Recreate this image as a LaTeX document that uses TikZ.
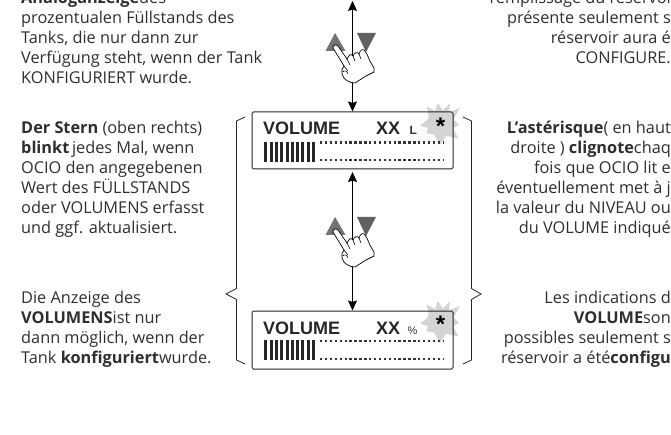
\documentclass[tikz,border=0pt]{standalone}
\usepackage{fontspec}
\setmainfont{Open Sans}
\setsansfont{Liberation Sans}
\usepackage{tikz}
\usetikzlibrary{arrows.meta}

\definecolor{txtgrey}{HTML}{2E2E2E}
\definecolor{stargrey}{HTML}{D4D4D4}
\tikzset{
  blurb/.style={inner sep=0pt,text=txtgrey,font=\fontsize{16.3}{20}\selectfont},
  blurbL/.style={blurb,anchor=north west,align=left},
  blurbR/.style={blurb,anchor=north east,align=right},
  lcdbox/.style={draw=black!85,line width=1pt,rounded corners=1.5pt,minimum width=201pt,inner sep=0pt},
  lcdword/.style={inner sep=0pt,anchor=base west,text=black!85,font=\sffamily\bfseries\fontsize{18}{20}\selectfont},
  lcdunit/.style={inner sep=0pt,anchor=base west,text=black!80,font=\sffamily\bfseries\fontsize{12}{12}\selectfont},
  lcdstar/.style={inner sep=0pt,text=black,font=\sffamily\bfseries\fontsize{24}{24}\selectfont},
  brace/.style={line width=.8pt,draw=black!85,line join=miter},
  wire/.style={line width=.8pt,draw=black,{Stealth[length=10pt,width=9pt,inset=1.5pt]}-{Stealth[length=10pt,width=9pt,inset=1.5pt]}}
}
% one hand with its two triangles, #1 is the shift downwards
\newcommand{\handpair}[1]{
  \begin{scope}[shift={(0,#1)}]
    \fill[black!55] (335,33) -- (345.5,51) -- (325.5,51) -- cycle;
    \fill[black!62] (357,33) -- (376,33) -- (366,52) -- cycle;
    \draw[fill=white,line width=.7pt,line join=round]
      (333,48) .. controls (333,45) and (336,44) .. (338,46)
      -- (347,59) .. controls (349,55) and (351,53) .. (353,56)
      .. controls (354,53) and (357,51) .. (359,54)
      .. controls (360,50) and (363,48) .. (365,51)
      .. controls (368,55) and (369,60) .. (371,63)
      -- (374,68) -- (374,72)
      -- (366,76) -- (355,83)
      .. controls (349,83) and (343,79) .. (342,74)
      .. controls (341,71) and (342,68) .. (344,66)
      -- cycle;
    \draw[line width=.6pt] (347,59) -- (350,65) (353,56) -- (355,61) (359,54) -- (361,59)
      (344,66) -- (348,71) (342,72) .. controls (345,70) and (347,71) .. (348,74);
  \end{scope}
}
% star burst behind a display, #1 is the shift downwards
\newcommand{\lcdburst}[1]{
  \begin{scope}[shift={(440,123+#1)}]
    \fill[stargrey] (-129:21)
      \foreach \ang/\rad in {-112/13,-96/20,-78/13,-63/22,-50/14,-37/25,-15/14,5/19,22/14,40/24,65/14,90/22,118/13,143/17,158/13,172/20,-165/13,-150/13}
        { -- (\ang:\rad) } -- cycle;
  \end{scope}
}
% bars and dots of a display, #1 is the shift downwards
\newcommand{\lcdgauge}[1]{
  \begin{scope}[shift={(0,#1)}]
    \foreach \i in {0,...,9}
      \fill[black!85] ({264.3+5.3*\i},141.7) rectangle ++(3,20);
    \draw[line width=2.2pt,black!80,dash pattern=on 2.4pt off 2.5pt] (320,142.5) -- (444,142.5);
    \draw[line width=2.2pt,black!80,dash pattern=on 2.4pt off 2.5pt] (320,160.2) -- (444,160.2);
  \end{scope}
}
\begin{document}
\begin{tikzpicture}[x=1pt,y=-1pt]
  \useasboundingbox (0,0) rectangle (671,435);

  \node[blurbL] (anaDE) at (21,-9.5) {\textbf{Analoganzeige}des\\prozentualen Füllstands des\\Tanks, die nur dann zur\\Verfügung steht, wenn der Tank\\KONFIGURIERT wurde.};
  \node[blurbL] (sternDE) at (21,120.5) {\textbf{Der Stern} (oben rechts)\\\textbf{blinkt}\,jedes Mal, wenn\\OCIO den angegebenen\\Wert des FÜLLSTANDS\\oder VOLUMENS erfasst\\und ggf. aktualisiert.};
  \node[blurbL] (volDE) at (21,290.5) {Die Anzeige des\\\textbf{VOLUMENS}ist nur\\dann möglich, wenn der\\Tank \textbf{konfiguriert}wurde.};

  \node[blurbR] (anaFR) at (671,-9.5) {remplissage du réservoi\\présente seulement s\\réservoir aura é\\CONFIGURE.};
  \node[blurbR] (sternFR) at (671,120.5) {\textbf{L’astérisque}( en haut\\droite ) \textbf{clignote}chaq\\fois que OCIO lit e\\éventuellement met à j\\la valeur du NIVEAU ou\\du VOLUME indiqué};
  \node[blurbR] (volFR) at (671,290.5) {Les indications d\\\textbf{VOLUME}son\\possibles seulement s\\réservoir a été\textbf{configu}};

  \lcdburst{0}
  \lcdburst{198}

  \coordinate (topend) at (352.5,1);
  \node[lcdbox,minimum height=57pt] (lcdA) at (352.5,140.5) {};
  \node[lcdbox,minimum height=58pt] (lcdB) at (352.5,340) {};

  \node[lcdword] (wordA) at (263,135) {VOLUME};
  \node[lcdword] (xxA) at (376,135) {XX};
  \node[lcdunit] (unitA) at (409.5,135) {L};
  \node[lcdstar] (starA) at (440.5,126.5) {*};
  \lcdgauge{0}

  \node[lcdword] (wordB) at (263,334.3) {VOLUME};
  \node[lcdword] (xxB) at (376,334.3) {XX};
  \node[lcdunit,font=\sffamily\fontsize{11}{12}\selectfont] (unitB) at (407.5,334.3) {\%};
  \node[lcdstar] (starB) at (440.5,324.5) {*};
  \lcdgauge{198.7}

  \draw[wire] (topend) -- (lcdA.north);
  \draw[wire,shorten <=2.5pt] (lcdA.south) -- (lcdB.north);

  \handpair{0}
  \handpair{184}

  \draw[brace] (245,117) -- (236.5,121) -- (236.5,288.5) -- (226,294) -- (236.5,299.5) -- (236.5,360) -- (245,364);
  \draw[brace] (463,117) -- (471.5,121) -- (471.5,288.5) -- (481,294) -- (471.5,299.5) -- (471.5,360) -- (463,364);
\end{tikzpicture}
\end{document}
